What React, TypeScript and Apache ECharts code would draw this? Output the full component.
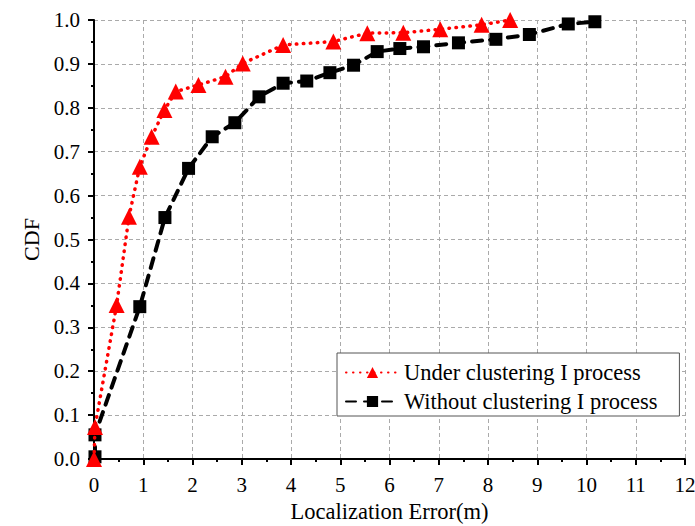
import React, { useEffect, useRef } from "react";
import * as echarts from "echarts";

const underX = [0, 0.02, 0.46, 0.71, 0.93, 1.17, 1.43, 1.66, 2.12, 2.67, 3.02, 3.84, 4.86, 5.55, 6.28, 7.03, 7.87, 8.45];
const underY = [0.0, 0.073, 0.351, 0.552, 0.666, 0.734, 0.795, 0.837, 0.852, 0.871, 0.901, 0.943, 0.951, 0.97, 0.971, 0.979, 0.989, 1.0];
const withoutX = [0.02, 0.02, 0.93, 1.44, 1.92, 2.4, 2.86, 3.35, 3.84, 4.32, 4.79, 5.27, 5.75, 6.21, 6.69, 7.4, 8.16, 8.84, 9.63, 10.17];
const withoutY = [0.005, 0.055, 0.347, 0.55, 0.662, 0.734, 0.766, 0.825, 0.856, 0.861, 0.88, 0.897, 0.928, 0.935, 0.939, 0.948, 0.956, 0.967, 0.991, 0.996];
const seriesNames = ["Under clustering I process", "Without clustering I process"];
const xAxisName = "Localization Error(m)";
const yAxisName = "CDF";

const FONT = '"Liberation Serif", "Times New Roman", serif';

export default function App() {
  const ref = useRef<HTMLDivElement>(null);
  useEffect(() => {
    const chart = echarts.init(ref.current!, null, { renderer: "svg" });
    const zip = (xs: number[], ys: number[]) => xs.map((x, i) => [x, ys[i]]);
    chart.setOption({
      animation: false,
      backgroundColor: "#fff",
      textStyle: { fontFamily: FONT },
      grid: { left: 94, right: 10, top: 20, bottom: 67, containLabel: false, outerBoundsMode: "none" },
      legend: {
        left: 337,
        top: 353,
        orient: "vertical",
        align: "left",
        backgroundColor: "#fff",
        borderColor: "#555",
        borderWidth: 1,
        borderRadius: 0,
        padding: [8, 22, 3, 8],
        itemGap: 6,
        itemWidth: 53,
        itemHeight: 14,
        textStyle: { fontFamily: FONT, fontSize: 22.5, color: "#000", padding: [0, 0, 0, 0] },
        data: seriesNames,
      },
      xAxis: {
        type: "value",
        min: 0,
        max: 12,
        interval: 1,
        name: xAxisName,
        nameLocation: "middle",
        nameGap: 41,
        nameTextStyle: { fontFamily: FONT, fontSize: 22.5, color: "#000" },
        axisLine: { lineStyle: { color: "#000", width: 2 } },
        axisTick: { length: 6, lineStyle: { color: "#000", width: 2 } },
        minorTick: { show: true, splitNumber: 2, length: 3, lineStyle: { color: "#000", width: 2 } },
        axisLabel: { fontFamily: FONT, fontSize: 21, color: "#000", margin: 15 },
        splitLine: { show: true, lineStyle: { color: "#aaa", type: [4, 3], width: 1 } },
      },
      yAxis: {
        type: "value",
        min: 0,
        max: 1,
        interval: 0.1,
        name: yAxisName,
        nameLocation: "middle",
        nameGap: 52,
        nameTextStyle: { fontFamily: FONT, fontSize: 22, color: "#000" },
        axisLine: { show: true, lineStyle: { color: "#000", width: 2 } },
        axisTick: { show: true, length: 6, lineStyle: { color: "#000", width: 2 } },
        minorTick: { show: true, splitNumber: 2, length: 3, lineStyle: { color: "#000", width: 2 } },
        axisLabel: {
          fontFamily: FONT,
          fontSize: 21,
          color: "#000",
          margin: 14,
          formatter: (v: number) => v.toFixed(1),
        },
        splitLine: { show: true, lineStyle: { color: "#aaa", type: [4, 3], width: 1 } },
      },
      series: [
        {
          name: seriesNames[0],
          type: "line",
          data: zip(underX, underY),
          symbol: "triangle",
          symbolSize: 16,
          itemStyle: { color: "#ff0000" },
          lineStyle: { color: "#ff0000", width: 3.5, type: [0.5, 6.5], cap: "round" },
          z: 3,
        },
        {
          name: seriesNames[1],
          type: "line",
          data: zip(withoutX, withoutY),
          symbol: "rect",
          symbolSize: 13,
          itemStyle: { color: "#000" },
          lineStyle: { color: "#000", width: 4, type: [10, 8], cap: "round" },
          z: 2,
        },
      ],
    });
    return () => chart.dispose();
  }, []);
  return <div ref={ref} style={{ width: 695, height: 526, position: "absolute", left: 0, top: 0 }} />;
}
